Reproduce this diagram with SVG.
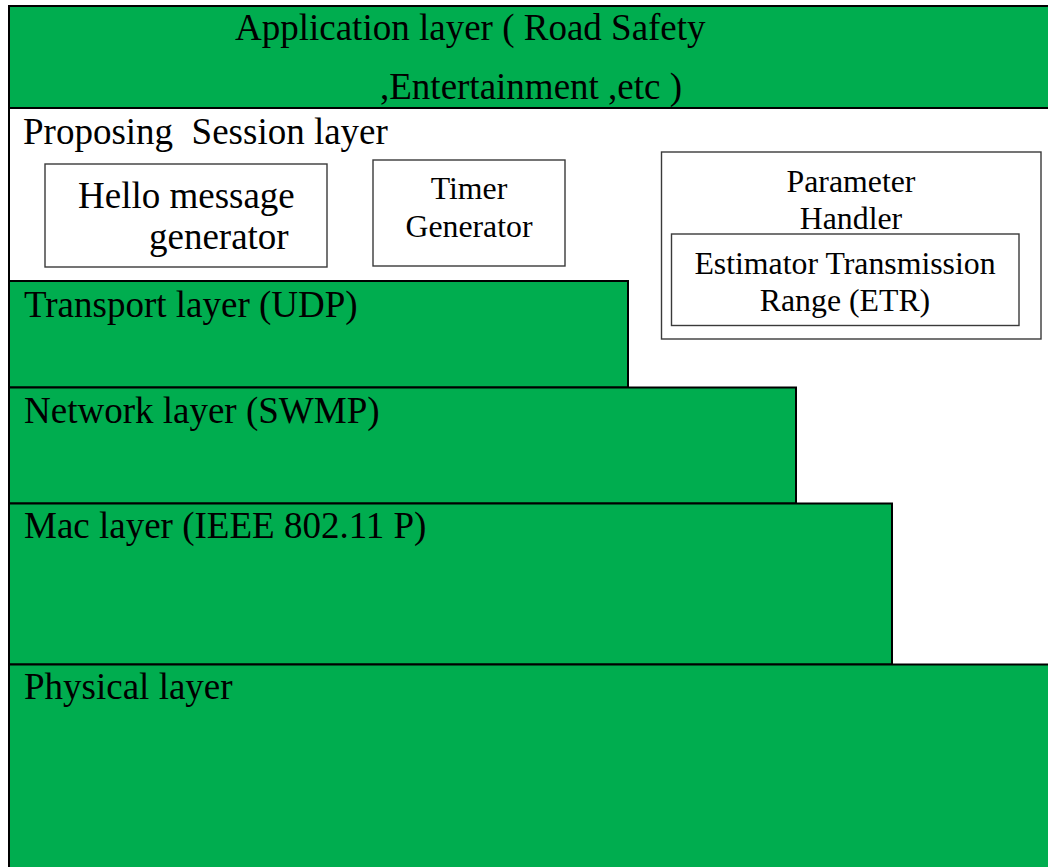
<svg xmlns="http://www.w3.org/2000/svg" width="1048" height="867" viewBox="0 0 1048 867">
  <style>
    .layer { fill: #00ad4f; stroke: #000; stroke-width: 2; }
    .box { fill: #fff; stroke: #3a3a3a; stroke-width: 1.4; }
    .big { font-family: "Liberation Serif", "Times New Roman", serif; font-size: 37px; fill: #000; }
    .small { font-family: "Liberation Serif", "Times New Roman", serif; font-size: 31.8px; fill: #000; }
    .mid { text-anchor: middle; }
  </style>
  <rect x="0" y="0" width="1048" height="867" fill="#fff"/>

  <!-- Application layer -->
  <g id="application-layer">
    <rect class="layer" x="9" y="6" width="1045" height="102"/>
    <text class="big" x="235" y="40">Application layer ( Road Safety</text>
    <text class="big" x="380" y="99">,Entertainment ,etc )</text>
  </g>

  <!-- Session layer (white area) -->
  <g id="session-layer">
    <line x1="9" y1="108" x2="9" y2="281" stroke="#000" stroke-width="2"/>
    <text class="big" x="23" y="144" xml:space="preserve">Proposing  Session layer</text>
  </g>

  <g id="hello-generator">
    <rect class="box" x="45" y="164" width="282" height="103"/>
    <text class="big" x="78" y="208">Hello message</text>
    <text class="big" x="149" y="249">generator</text>
  </g>

  <g id="timer-generator">
    <rect class="box" x="373" y="160" width="192" height="106"/>
    <text class="small mid" x="469" y="199">Timer</text>
    <text class="small mid" x="469" y="237">Generator</text>
  </g>

  <g id="parameter-handler">
    <rect class="box" x="661.5" y="152" width="379.5" height="187"/>
    <text class="small mid" x="851" y="192">Parameter</text>
    <text class="small mid" x="851" y="229">Handler</text>
  </g>

  <g id="etr">
    <rect class="box" x="671.5" y="234" width="347.5" height="91.5"/>
    <text class="small mid" x="845" y="274">Estimator Transmission</text>
    <text class="small mid" x="845" y="311">Range (ETR)</text>
  </g>

  <!-- Transport layer -->
  <g id="transport-layer">
    <rect class="layer" x="9" y="281" width="619" height="106.5"/>
    <text class="big" x="24" y="317">Transport layer (UDP)</text>
  </g>

  <!-- Network layer -->
  <g id="network-layer">
    <rect class="layer" x="9" y="387.5" width="787" height="116"/>
    <text class="big" x="24" y="423">Network layer (SWMP)</text>
  </g>

  <!-- MAC layer -->
  <g id="mac-layer">
    <rect class="layer" x="9" y="503.5" width="883" height="161"/>
    <text class="big" x="24" y="538">Mac layer (IEEE 802.11 P)</text>
  </g>

  <!-- Physical layer -->
  <g id="physical-layer">
    <rect class="layer" x="9" y="664.5" width="1045" height="215"/>
    <text class="big" x="24" y="699">Physical layer</text>
  </g>

  <g id="connectors"></g>
</svg>
